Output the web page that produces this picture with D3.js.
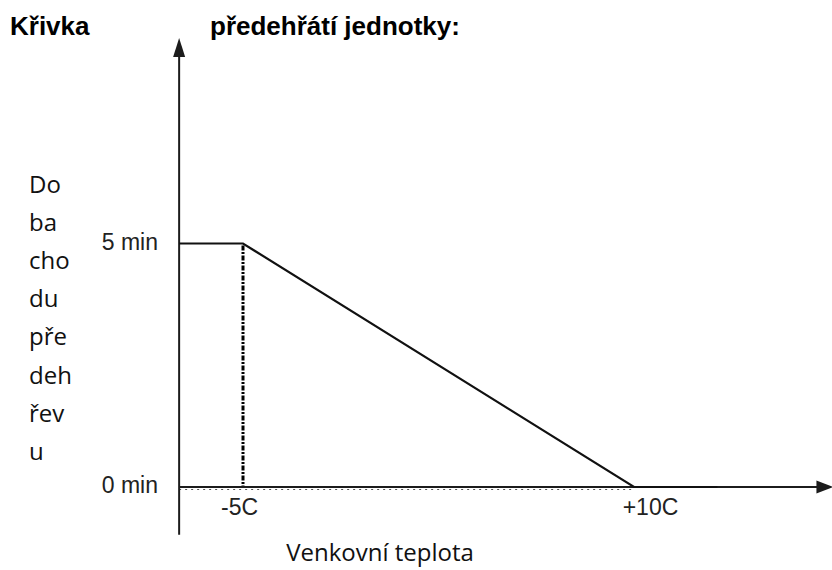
<!DOCTYPE html>
<html>
<head>
<meta charset="utf-8">
<script src="https://cdn.jsdelivr.net/npm/d3@7"></script>
<style>
  html, body { margin: 0; padding: 0; background: #ffffff; }
  svg { display: block; }
</style>
</head>
<body>
<svg id="chart" width="832" height="570"></svg>
<script>
// Preheat curve: outdoor temperature (°C) -> preheat duration (min)
const curveTemp = [-7.45, -5, 10, 13.2];
const curveMinutes = [5, 5, 0, 0];

// Reference markers
const kneeTemp = -5;
const kneeMinutes = 5;
const zeroTemp = 10;

// Axis extents in data units
const xAxisStart = -7.45;
const xAxisEnd = 17.65;
const yAxisStart = -0.98;
const yAxisEnd = 9.22;

// Tick labels
const xTickValues = [-5, 10];
const xTickLabels = ["-5C", "+10C"];
const yTickValues = [0, 5];
const yTickLabels = ["0 min", "5 min"];

// Texts
const titleLeft = "Křivka";
const titleRight = "předehřátí jednotky:";
const yTitleLines = ["Do", "ba", "cho", "du", "pře", "deh", "řev", "u"];
const xTitle = "Venkovní teplota";

const svg = d3.select("#chart");
const ink = "#1c1c1c";

const x = d3.scaleLinear().domain([-5, 10]).range([243, 634]);
const y = d3.scaleLinear().domain([0, 5]).range([487, 243.5]);

// Title
svg.append("text").attr("x", 10).attr("y", 35)
  .attr("font-family", "Liberation Sans, Arial, sans-serif")
  .attr("font-weight", "bold").attr("font-size", 26).attr("fill", "#000")
  .text(titleLeft);
svg.append("text").attr("x", 210).attr("y", 35)
  .attr("font-family", "Liberation Sans, Arial, sans-serif")
  .attr("font-weight", "bold").attr("font-size", 26).attr("fill", "#000")
  .text(titleRight);

// Dashed guide along the baseline from the axis to the zero point
svg.append("line")
  .attr("x1", x(xAxisStart)).attr("x2", x(zeroTemp))
  .attr("y1", y(0) + 2.5).attr("y2", y(0) + 2.5)
  .attr("stroke", "#555").attr("stroke-width", 1.2)
  .attr("stroke-dasharray", "2,4");

// Vertical dash-dot guide at the knee temperature
svg.append("line")
  .attr("x1", x(kneeTemp)).attr("x2", x(kneeTemp))
  .attr("y1", y(kneeMinutes) + 2).attr("y2", y(0))
  .attr("stroke", "#000").attr("stroke-width", 3)
  .attr("stroke-dasharray", "5,1.5,2,1.5");

// Axes lines with arrowheads
const axisG = svg.append("g").attr("stroke", ink).attr("fill", ink);
axisG.append("line")
  .attr("x1", x(xAxisStart)).attr("x2", x(xAxisStart))
  .attr("y1", y(yAxisStart)).attr("y2", y(yAxisEnd) + 14)
  .attr("stroke-width", 2);
const ax = x(xAxisStart), ay = y(yAxisEnd);
axisG.append("path")
  .attr("d", `M${ax},${ay} L${ax - 6},${ay + 19} L${ax + 6},${ay + 19} Z`)
  .attr("stroke", "none");

axisG.append("line")
  .attr("x1", x(xAxisStart)).attr("x2", x(xAxisEnd) - 14)
  .attr("y1", y(0)).attr("y2", y(0))
  .attr("stroke-width", 2);
const bx = x(xAxisEnd), by = y(0);
axisG.append("path")
  .attr("d", `M${bx},${by} L${bx - 17},${by - 6.5} L${bx - 17},${by + 6.5} Z`)
  .attr("stroke", "none");

// Curve
const line = d3.line().x((d, i) => x(curveTemp[i])).y((d, i) => y(curveMinutes[i]));
svg.append("path")
  .datum(curveTemp)
  .attr("d", line)
  .attr("fill", "none")
  .attr("stroke", "#111")
  .attr("stroke-width", 2.2)
  .attr("stroke-linejoin", "miter");

// Y tick labels
const yAxis = d3.axisLeft(y).tickValues(yTickValues).tickSize(0)
  .tickFormat((d, i) => yTickLabels[i]);
const yg = svg.append("g").attr("transform", `translate(158,0)`).call(yAxis);
yg.select(".domain").remove();
yg.selectAll("text")
  .attr("x", 0).attr("dy", "0.26em")
  .attr("font-family", "Liberation Sans, Arial, sans-serif")
  .attr("font-size", 23).attr("fill", "#222");

// X tick labels
const xLabelShift = [-4, 16];
const xAxis = d3.axisBottom(x).tickValues(xTickValues).tickSize(0)
  .tickFormat((d, i) => xTickLabels[i]);
const xg = svg.append("g").attr("transform", `translate(0,${y(0)})`).call(xAxis);
xg.select(".domain").remove();
xg.selectAll("text")
  .attr("y", 28).attr("dy", 0)
  .attr("dx", (d, i) => xLabelShift[i])
  .attr("font-family", "Liberation Sans, Arial, sans-serif")
  .attr("font-size", 23).attr("fill", "#222");

// Y title, broken into syllables stacked vertically
svg.append("g").selectAll("text")
  .data(yTitleLines)
  .join("text")
  .attr("x", 29)
  .attr("y", (d, i) => 193 + i * 38.1)
  .attr("font-family", "Open Sans, Noto Sans, sans-serif")
  .attr("font-size", 24).attr("fill", "#111")
  .text(d => d);

// X title
svg.append("text")
  .attr("x", 380).attr("y", 561)
  .attr("text-anchor", "middle")
  .attr("font-family", "Open Sans, Noto Sans, sans-serif")
  .attr("font-size", 24).attr("fill", "#111")
  .text(xTitle);
</script>
</body>
</html>
